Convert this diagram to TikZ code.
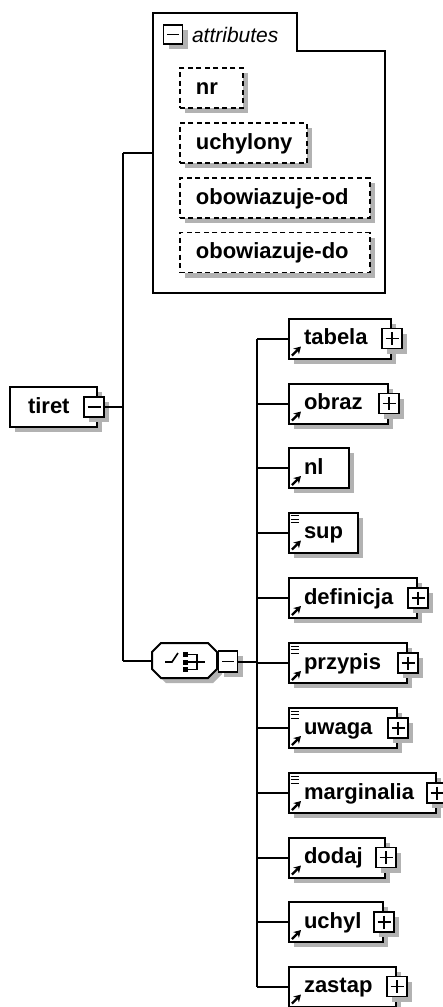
\documentclass[tikz,border=0pt]{standalone}
\usepackage{fontspec}
\setmainfont{Liberation Sans}
\usetikzlibrary{shadows,arrows.meta}
\begin{document}
\begin{tikzpicture}[x=1pt,y=-1pt,line width=2pt,
  shade/.style={drop shadow={shadow xshift=5pt,shadow yshift=-5pt,fill=black!30,opacity=1}},
  elem/.style={draw,line width=2pt,fill=white,anchor=west,minimum height=40pt,inner sep=0pt,
    text height=16pt,text depth=4pt,align=left,
    font=\bfseries\fontsize{22}{24}\selectfont,shade},
  attr/.style={elem,line width=1.8pt,dash pattern=on 5pt off 3.5pt},
  btn/.style={draw,line width=1.6pt,fill=white,minimum width=20pt,minimum height=20pt,inner sep=0pt,shade},
  minusbtn/.style={btn,path picture={\draw[line width=1.4pt]
    ([xshift=3.5pt]path picture bounding box.west) -- ([xshift=-3.5pt]path picture bounding box.east);}},
  plusbtn/.style={btn,path picture={\draw[line width=1.4pt]
    ([xshift=3.5pt]path picture bounding box.west) -- ([xshift=-3.5pt]path picture bounding box.east)
    ([yshift=-3.5pt]path picture bounding box.north) -- ([yshift=3.5pt]path picture bounding box.south);}},
  refarrow/.style={line width=2.2pt,-{Stealth[length=7pt,width=8pt]}},
  docline/.style={line width=1pt},
  icon/.style={line width=1.6pt},
  wire/.style={line width=2pt}
]
\useasboundingbox (0,0) rectangle (442,1007);
\fill[white] (0,0) rectangle (442,1007);

% attributes container
\draw[line width=2pt] (153,13) -- (297,13) -- (297,51) -- (385,51) -- (385,293) -- (153,293) -- cycle;
\node[minusbtn,minimum width=19pt,minimum height=19pt,drop shadow={opacity=0}] (attrbtn) at (173,34.5) {};
\node[anchor=base west,inner sep=0pt,font=\itshape\fontsize{21}{24}\selectfont] (attrtitle) at (191,42) {attributes};
\coordinate (attrL) at (153,153);

\node[attr,text width=63pt] (nr) at (179,88) {\hspace*{16pt}nr};
\node[attr,text width=127pt] (uchylony) at (179,143) {\hspace*{16pt}uchylony};
\node[attr,text width=190pt] (obod) at (179,198) {\hspace*{16pt}obowiazuje-od};
\node[attr,text width=190pt] (obdo) at (179,252.5) {\hspace*{16pt}obowiazuje-do};

% root element
\node[elem,text width=87pt] (tiret) at (9,407) {\hspace*{18pt}tiret};
\node[minusbtn] (tiretbtn) at (94,407) {};

% choice compositor
\node[minimum width=65pt,minimum height=35pt,inner sep=0pt] (choice) at (184.5,660.5) {};
\begin{scope}[shift={(choice.center)}]
  \draw[line width=2pt,fill=white,shade] (-32.5,-8.5) -- (-23.5,-17.5) -- (23.5,-17.5) -- (32.5,-8.5)
    -- (32.5,8.5) -- (23.5,17.5) -- (-23.5,17.5) -- (-32.5,8.5) -- cycle;
  \draw[icon] (-19.5,1.5) -- (-12.5,1.5) -- (-6.5,-7.5);
  \fill (-1.5,-8.5) rectangle (3.5,-3.5);
  \fill (-1.5,-1) rectangle (3.5,4);
  \fill (-1.5,6.5) rectangle (3.5,11.5);
  \draw[icon] (3.5,-6) -- (12.5,-6) -- (12.5,9) -- (3.5,9);
  \draw[icon] (3.5,1.5) -- (20,1.5);
\end{scope}
\node[minusbtn,minimum width=19pt,minimum height=21pt] (choicebtn) at (228,661.5) {};

% trunk and bus
\coordinate (trunk) at (123,0);
\coordinate (bus) at (257,0);
\draw[wire] (tiretbtn.east) -- (tiretbtn.east -| trunk);
\draw[wire] (attrL -| trunk) -- (choice.west -| trunk);
\draw[wire] (attrL -| trunk) -- (attrL);
\draw[wire] (choice.west -| trunk) -- (choice.west);
\draw[wire] (choicebtn.east) -- (choicebtn.east -| bus);

% children
\foreach \n/\cy/\r/\p/\d in {tabela/338.5/390/1/0, obraz/403.5/387/1/0, nl/468/348/0/0,
  sup/532.5/357/0/1, definicja/598/416/1/0, przypis/663/406/1/1, uwaga/728/396/1/1,
  marginalia/793/435/1/1, dodaj/857.5/384/1/0, uchyl/922/382/1/0, zastap/986.5/395/1/0}{
  \pgfmathsetmacro\w{\r-288}
  \node[elem,text width=\w pt] (\n) at (288,\cy) {\hspace*{15pt}\n};
  \draw[refarrow] ([xshift=4pt,yshift=4pt]\n.south west) -- ++(9,-9);
  \ifnum\p=1 \node[plusbtn] (\n btn) at (\n.east) {};\fi
  \ifnum\d=1
    \foreach \k in {4,7.5,11}{\draw[docline] ([xshift=2.5pt,yshift=-\k pt]\n.north west) -- ++(8,0);}
  \fi
  \draw[wire] (\n.west -| bus) -- (\n.west);
}
\draw[wire] (tabela.west -| bus) -- (zastap.west -| bus);
\end{tikzpicture}
\end{document}
